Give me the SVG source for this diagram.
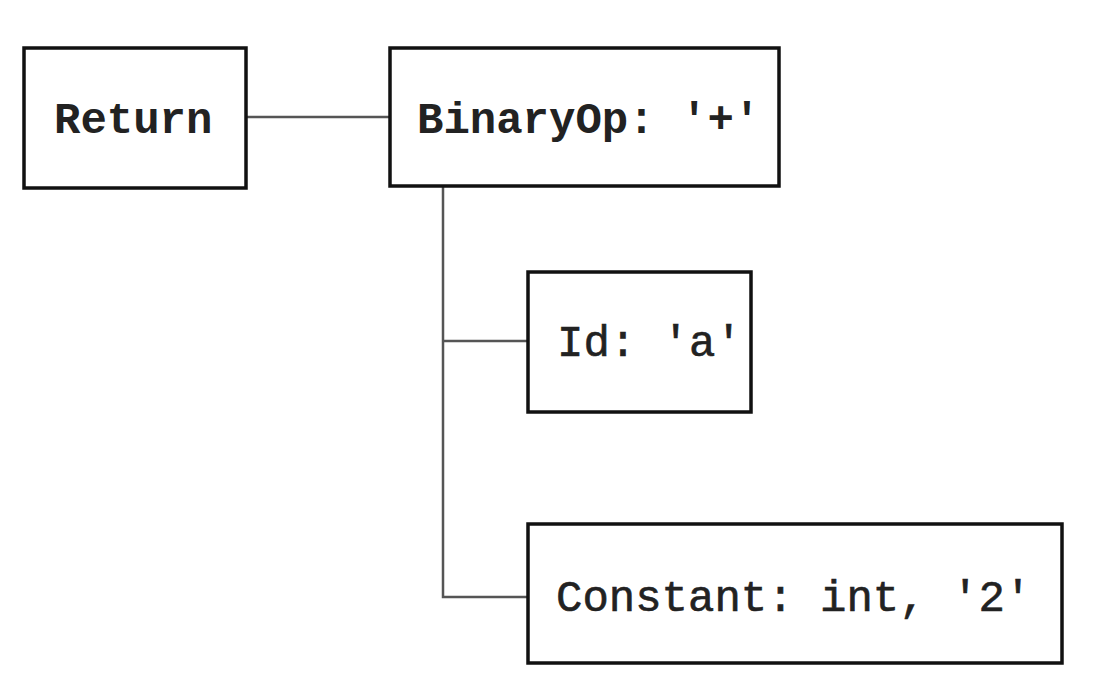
<svg xmlns="http://www.w3.org/2000/svg" width="1094" height="684" viewBox="0 0 1094 684">
<style>
.box{fill:#fff;stroke:#111;stroke-width:3.5}
.lbl{font-family:"Liberation Mono","Courier New",monospace;font-size:44px;fill:#222}
.b{font-weight:bold}
.r{stroke:#222;stroke-width:0.6}
.conn{fill:none;stroke:#555;stroke-width:2.5}
</style>
<rect width="1094" height="684" fill="#fff"/>
<g id="connectors">
<line class="conn" x1="247" y1="117" x2="389" y2="117"/>
<polyline class="conn" points="443,187 443,597 527,597"/>
<line class="conn" x1="443" y1="341" x2="528" y2="341" stroke="#888" stroke-width="3.5"/>
</g>
<g id="return">
<rect class="box" x="24" y="48" width="222" height="140"/>
<text class="lbl b" x="54" y="133">Return</text>
</g>
<g id="binaryop">
<rect class="box" x="390" y="48" width="389" height="138"/>
<text class="lbl b" x="417" y="133">BinaryOp: '+'</text>
</g>
<g id="id">
<rect class="box" x="528" y="272" width="223" height="140"/>
<text class="lbl r" x="557" y="356">Id: 'a'</text>
</g>
<g id="constant">
<rect class="box" x="528" y="524" width="534" height="139"/>
<text class="lbl r" x="556" y="611">Constant: int, '2'</text>
</g>
</svg>
